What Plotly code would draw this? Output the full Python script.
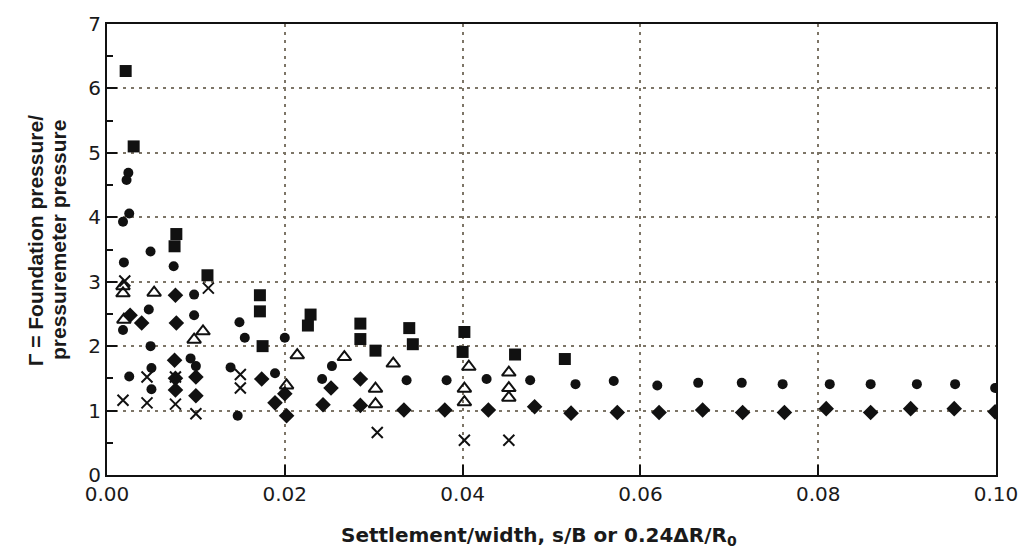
import plotly.graph_objects as go

# ---- data ----
sq_x = [0.0021, 0.0030, 0.0078, 0.0076, 0.0113, 0.0172, 0.0172, 0.0175, 0.0229, 0.0226,
        0.0285, 0.0285, 0.0302, 0.0340, 0.0344, 0.0402, 0.0400, 0.0459, 0.0515]
sq_y = [6.27, 5.10, 3.74, 3.55, 3.10, 2.79, 2.54, 2.00, 2.49, 2.32,
        2.35, 2.11, 1.93, 2.28, 2.03, 2.22, 1.91, 1.87, 1.80]

ci_x = [0.0024, 0.0022, 0.0025, 0.0018, 0.0049, 0.0019, 0.0075, 0.0098, 0.0098, 0.0047,
        0.0018, 0.0049, 0.0050, 0.0050, 0.0025, 0.0094, 0.0100, 0.0149, 0.0155, 0.0139,
        0.0147, 0.0189, 0.0200, 0.0253, 0.0242, 0.0337, 0.0382, 0.0427, 0.0476, 0.0527,
        0.0570, 0.0619, 0.0665, 0.0714, 0.0760, 0.0813, 0.0859, 0.0911, 0.0954, 0.0999]
ci_y = [4.69, 4.58, 4.06, 3.93, 3.47, 3.30, 3.24, 2.80, 2.48, 2.57,
        2.25, 2.00, 1.66, 1.33, 1.53, 1.81, 1.69, 2.37, 2.13, 1.67,
        0.92, 1.58, 2.13, 1.69, 1.49, 1.47, 1.47, 1.49, 1.47, 1.41,
        1.46, 1.39, 1.43, 1.43, 1.41, 1.41, 1.41, 1.41, 1.41, 1.35]

di_x = [0.0026, 0.0039, 0.0077, 0.0078, 0.0076, 0.0077, 0.0077, 0.0100, 0.0100, 0.0174,
        0.0189, 0.0200, 0.0202, 0.0243, 0.0252, 0.0285, 0.0285, 0.0334, 0.0380, 0.0429,
        0.0481, 0.0522, 0.0574, 0.0621, 0.0670, 0.0715, 0.0762, 0.0809, 0.0859, 0.0904,
        0.0953, 0.0999]
di_y = [2.48, 2.36, 2.79, 2.36, 1.78, 1.50, 1.32, 1.52, 1.23, 1.49,
        1.12, 1.26, 0.92, 1.09, 1.35, 1.49, 1.08, 1.01, 1.01, 1.01,
        1.06, 0.96, 0.97, 0.97, 1.01, 0.97, 0.97, 1.03, 0.97, 1.03,
        1.03, 0.98]

tr_x = [0.0018, 0.0018, 0.0053, 0.0019, 0.0098, 0.0108, 0.0214, 0.0267, 0.0322, 0.0202,
        0.0302, 0.0302, 0.0407, 0.0402, 0.0402, 0.0452, 0.0452, 0.0452]
tr_y = [2.93, 2.82, 2.83, 2.41, 2.10, 2.23, 1.86, 1.83, 1.73, 1.39,
        1.34, 1.10, 1.68, 1.34, 1.13, 1.59, 1.35, 1.20]

cr_x = [0.0020, 0.0018, 0.0045, 0.0045, 0.0077, 0.0077, 0.0100, 0.0114, 0.0150, 0.0150,
        0.0304, 0.0402, 0.0452]
cr_y = [3.01, 1.16, 1.52, 1.12, 1.52, 1.10, 0.95, 2.90, 1.56, 1.35,
        0.66, 0.54, 0.54]

x_ticks = [0.00, 0.02, 0.04, 0.06, 0.08, 0.10]
x_tick_labels = ["0.00", "0.02", "0.04", "0.06", "0.08", "0.10"]
y_ticks = [0, 1, 2, 3, 4, 5, 6, 7]

x_title = "<b>Settlement/width, s/B or 0.24ΔR/R<sub>0</sub></b>"
y_title_1 = "<b>Γ = Foundation pressure/</b>"
y_title_2 = "<b>pressuremeter pressure</b>"

FONT = "DejaVu Sans, Liberation Sans, Arial, sans-serif"
YFONT = "Liberation Sans, Arial, sans-serif"
INK = "#111111"
TXT = "#1a1a1a"

fig = go.Figure()
fig.add_trace(go.Scatter(x=sq_x, y=sq_y, mode="markers",
                         marker=dict(symbol="square", size=12, color=INK)))
fig.add_trace(go.Scatter(x=ci_x, y=ci_y, mode="markers",
                         marker=dict(symbol="circle", size=10, color=INK)))
fig.add_trace(go.Scatter(x=di_x, y=di_y, mode="markers",
                         marker=dict(symbol="diamond", size=12, color=INK)))
fig.add_trace(go.Scatter(x=tr_x, y=tr_y, mode="markers",
                         marker=dict(symbol="triangle-up-open", size=12, color=INK,
                                     line=dict(width=2, color=INK))))
fig.add_trace(go.Scatter(x=cr_x, y=cr_y, mode="markers",
                         marker=dict(symbol="x-thin-open", size=11, color=INK,
                                     line=dict(width=2, color=INK))))

L, R, T, B = 107, 24, 17, 76
W, H = 1030, 551
pw = W - L - R
ph = H - T - B

fig.update_layout(
    width=W, height=H,
    margin=dict(l=L, r=R, t=T, b=B),
    paper_bgcolor="white", plot_bgcolor="white",
    showlegend=False,
    font=dict(family=FONT, size=20, color=TXT),
)

grid_style = dict(showgrid=True, gridcolor="#7d7567", gridwidth=1.5, griddash="3px,5px")

fig.update_xaxes(
    range=[0, 0.1], tickvals=x_ticks, ticktext=x_tick_labels,
    showline=True, linecolor=INK, linewidth=2, mirror=True,
    ticks="inside", ticklen=10, tickwidth=2, tickcolor=INK,
    zeroline=False, **grid_style,
)
fig.update_yaxes(
    range=[0, 7], tickvals=y_ticks,
    showline=True, linecolor=INK, linewidth=2, mirror=True,
    ticks="inside", ticklen=10, tickwidth=2, tickcolor=INK,
    minor=dict(tickvals=[0.5, 1.5, 2.5, 3.5, 4.5, 5.5, 6.5], ticks="inside",
               ticklen=6, tickwidth=2, tickcolor=INK, showgrid=False),
    zeroline=False, **grid_style,
)

# x-axis title
fig.add_annotation(
    xref="paper", yref="paper", x=(544 - L) / pw, y=-(537 - (T + ph)) / ph,
    xanchor="center", yanchor="middle",
    text=x_title, showarrow=False, font=dict(size=20, color=TXT, family=FONT),
)

# y-axis title as two rotated lines
for px, txt in [(35, y_title_1), (58, y_title_2)]:
    fig.add_annotation(
        xref="paper", yref="paper", x=(px - L) / pw, y=0.52,
        xanchor="center", yanchor="middle", textangle=-90,
        text=txt, showarrow=False, font=dict(size=21, color=TXT, family=YFONT),
    )

fig.write_html("out.html")
